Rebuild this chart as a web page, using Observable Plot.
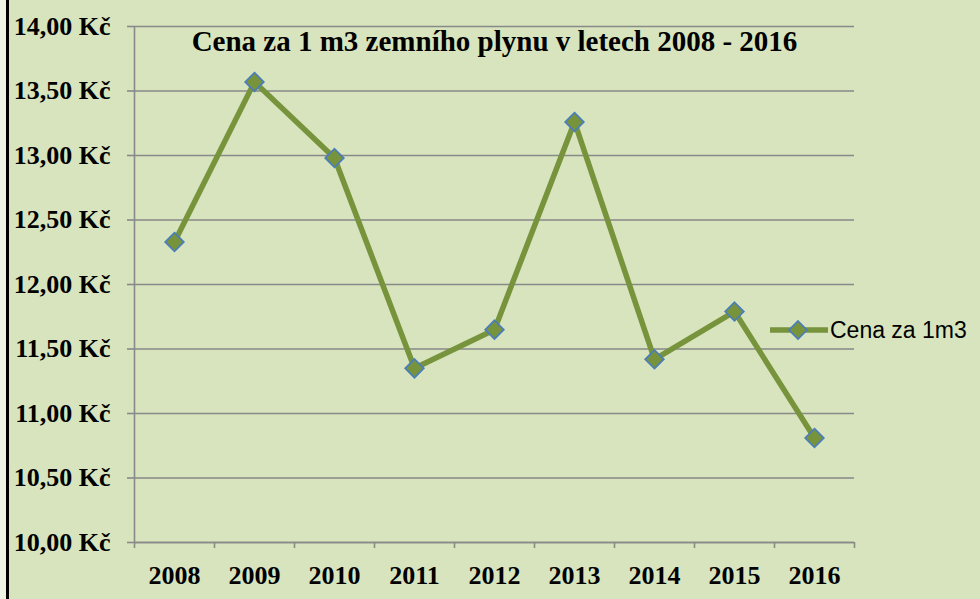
<!DOCTYPE html>
<html>
<head>
<meta charset="utf-8">
<script src="https://cdn.jsdelivr.net/npm/d3@7"></script>
<script src="https://cdn.jsdelivr.net/npm/@observablehq/plot@0.6"></script>
<style>
  html, body { margin: 0; padding: 0; background: #eef3e3; }
  #wrap { position: relative; width: 980px; height: 599px; background: #D7E4BD; overflow: hidden; }
  #border { position: absolute; left: 0; top: 0; width: 6px; height: 599px; background: #eef3e3; border-right: 3px solid #000; }
  #legend { position: absolute; left: 770px; top: 316px; display: flex; align-items: center;
            font-family: "Liberation Sans", Arial, sans-serif; font-size: 23px; color: #000; }
  #legend svg { display: block; }
  #wrap svg text, #wrap svg g { font-family: "Liberation Serif", "Times New Roman", serif !important; }
</style>
</head>
<body>
<div id="wrap"><div id="border"></div></div>
<script>
const years = [2008, 2009, 2010, 2011, 2012, 2013, 2014, 2015, 2016];
const prices = [12.33, 13.57, 12.98, 11.35, 11.65, 13.26, 11.42, 11.79, 10.81];
const yTicks = [10, 10.5, 11, 11.5, 12, 12.5, 13, 13.5, 14];
const title = "Cena za 1 m3 zemního plynu v letech 2008 - 2016";
const seriesName = "Cena za 1m3";

const lineColor = "#77933C";
const markerStroke = "#4A7EBB";
const gridColor = "#898989";
const serif = "'Liberation Serif', 'Times New Roman', serif";

const data = years.map((y, i) => ({year: y, price: prices[i]}));
const bounds = years.map(y => y - 0.5).concat([years[years.length - 1] + 0.5]);
const fmt = d => d.toFixed(2).replace(".", ",") + " Kč";

const chart = Plot.plot({
  width: 980,
  height: 599,
  marginTop: 26,
  marginBottom: 57,
  marginLeft: 134,
  marginRight: 126,
  style: {background: "transparent", fontFamily: serif},
  x: {type: "linear", domain: [bounds[0], bounds[bounds.length - 1]]},
  y: {domain: [10, 14]},
  marks: [
    Plot.gridY(yTicks, {stroke: gridColor, strokeOpacity: 1, strokeWidth: 1.6}),
    Plot.ruleX([bounds[0]], {stroke: gridColor, strokeWidth: 1.6}),
    Plot.ruleY([10], {stroke: gridColor, strokeWidth: 1.6}),
    Plot.axisY(yTicks, {tickFormat: fmt, tickSize: 7, tickPadding: 17, stroke: gridColor, strokeWidth: 1.6,
      fontSize: 26, fontWeight: "bold", fill: "#000", label: null}),
    Plot.axisX(bounds, {tickFormat: () => "", tickSize: 6, stroke: gridColor, strokeWidth: 1.6, label: null}),
    Plot.axisX(years, {tickFormat: d => String(d), tickSize: 0, tickPadding: 23,
      fontSize: 26, fontWeight: "bold", fill: "#000", label: null}),
    Plot.line(data, {x: "year", y: "price", stroke: lineColor, strokeWidth: 5.5, strokeLinejoin: "miter"}),
    Plot.dot(data, {x: "year", y: "price", symbol: "diamond2", r: 8.4, fill: lineColor, stroke: markerStroke, strokeWidth: 1.7}),
    Plot.text([title], {frameAnchor: "top", lineAnchor: "top", dy: 4, fontSize: 29, fontWeight: "bold", fill: "#000"})
  ]
});
document.getElementById("wrap").appendChild(chart);
chart.style.position = "absolute";
chart.style.left = "0";
chart.style.top = "0";

// legend
const legend = document.createElement("div");
legend.id = "legend";
legend.innerHTML = `<svg width="58" height="28"><line x1="0" x2="58" y1="14" y2="14" stroke="${lineColor}" stroke-width="5.5"/>` +
  `<path d="M28,5 L37,14 L28,23 L19,14 Z" fill="${lineColor}" stroke="${markerStroke}" stroke-width="1.7"/></svg>` +
  `<span style="margin-left:2px">${seriesName}</span>`;
document.getElementById("wrap").appendChild(legend);
</script>
</body>
</html>
